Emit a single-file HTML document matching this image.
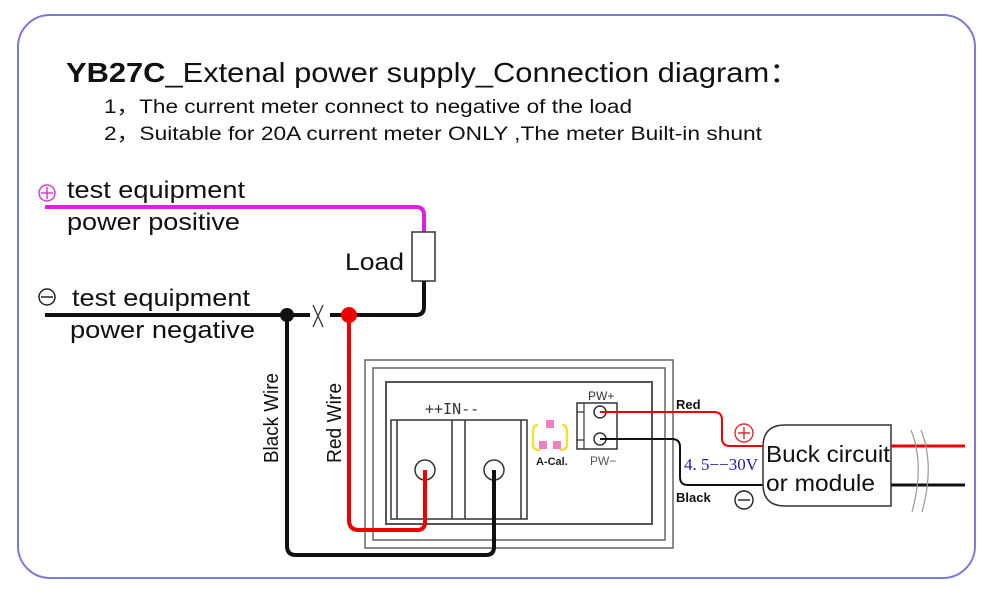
<!DOCTYPE html>
<html><head><style>body{margin:0;background:#fff}svg{display:block}</style></head><body>
<svg width="1000" height="595" viewBox="0 0 1000 595" xmlns="http://www.w3.org/2000/svg" font-family="Liberation Sans, sans-serif">
<rect x="18" y="15" width="957" height="563" rx="32" fill="#fff" stroke="#7c7cd6" stroke-width="2"/>
<text x="66" y="82" font-size="28" fill="#111" textLength="734" lengthAdjust="spacingAndGlyphs"><tspan font-weight="bold">YB27C</tspan>_Extenal power supply_Connection diagram：</text>
<text x="104" y="113" font-size="19" fill="#111" textLength="528" lengthAdjust="spacingAndGlyphs">1，The current meter connect to negative of the load</text>
<text x="104" y="140" font-size="19" fill="#111" textLength="658" lengthAdjust="spacingAndGlyphs">2，Suitable for 20A current meter ONLY ,The meter Built-in shunt</text>
<!-- magenta -->
<path d="M45 207 H416 Q424 207 424 215 V232" fill="none" stroke="#e020e0" stroke-width="4"/>
<circle cx="47" cy="193" r="8" fill="none" stroke="#d040d0" stroke-width="1.5"/>
<path d="M41 193h12M47 187v12" stroke="#d040d0" stroke-width="1.5"/>
<text x="67" y="198" font-size="24" fill="#111" textLength="178" lengthAdjust="spacingAndGlyphs">test equipment</text>
<text x="67" y="230" font-size="24" fill="#111" textLength="173" lengthAdjust="spacingAndGlyphs">power positive</text>
<rect x="412" y="232" width="23" height="49" fill="#fff" stroke="#333" stroke-width="1.5"/>
<text x="345" y="270" font-size="24" fill="#111" textLength="59" lengthAdjust="spacingAndGlyphs">Load</text>
<!-- black negative -->
<path d="M424 281 V307 Q424 315 416 315 H330" fill="none" stroke="#111" stroke-width="4"/>
<path d="M45 315 H310" stroke="#111" stroke-width="4"/>
<path d="M313 305 L323 327 M323 305 L313 327" stroke="#333" stroke-width="1.3"/>
<circle cx="47" cy="297" r="8" fill="none" stroke="#222" stroke-width="1.5"/>
<path d="M41 297h12" stroke="#222" stroke-width="1.5"/>
<text x="72" y="306" font-size="24" fill="#111" textLength="178" lengthAdjust="spacingAndGlyphs">test equipment</text>
<text x="70" y="338" font-size="24" fill="#111" textLength="185" lengthAdjust="spacingAndGlyphs">power negative</text>
<!-- meter -->
<rect x="365" y="360" width="308" height="188" fill="#fff" stroke="#666" stroke-width="1.5"/>
<rect x="373" y="368" width="292" height="172" fill="#fff" stroke="#666" stroke-width="1.5"/>
<rect x="386" y="382" width="266" height="142" fill="#fff" stroke="#555" stroke-width="2"/>
<rect x="391" y="420" width="136" height="99" fill="#fff" stroke="#333" stroke-width="1.5"/>
<path d="M397 420v99M452 420v99M465 420v99M521 420v99" stroke="#333" stroke-width="1.5"/>
<text x="425" y="414" font-size="15" fill="#333" font-family="DejaVu Sans Mono, monospace">++IN--</text>
<circle cx="425" cy="470" r="10" fill="#fff" stroke="#333" stroke-width="1.5"/>
<circle cx="494" cy="470" r="10" fill="#fff" stroke="#333" stroke-width="1.5"/>
<path d="M538 425 Q533 425 533 432 V445 Q533 450 540 450 M562 425 Q567 425 567 432 V445 Q567 450 560 450" fill="none" stroke="#f0e040" stroke-width="2.5"/>
<rect x="546" y="420" width="8" height="8" fill="#f080c0"/>
<rect x="539" y="441" width="8" height="8" fill="#f080c0"/>
<rect x="553" y="441" width="8" height="8" fill="#f080c0"/>
<text x="536" y="465" font-size="11" font-weight="bold" fill="#222">A-Cal.</text>
<rect x="577" y="403" width="40" height="46" fill="#fff" stroke="#333" stroke-width="1.5"/>
<path d="M584 403v46M577 412h7M577 440h7" stroke="#333" stroke-width="1.2"/>
<text x="588" y="400" font-size="12" fill="#333">PW+</text>
<text x="590" y="465" font-size="12" fill="#555">PW−</text>
<!-- wires from input -->
<path d="M349 315 V520 Q349 530 359 530 H417 Q425 530 425 522 V470" fill="none" stroke="#e00" stroke-width="4"/>
<path d="M287 315 V546 Q287 555 296 555 H486 Q494 555 494 547 V470" fill="none" stroke="#111" stroke-width="4"/>
<circle cx="287" cy="315" r="7" fill="#111"/>
<circle cx="349" cy="315" r="8" fill="#e00"/>
<text transform="translate(278,463) rotate(-90)" font-size="20" fill="#111" textLength="90" lengthAdjust="spacingAndGlyphs">Black Wire</text>
<text transform="translate(341,463) rotate(-90)" font-size="20" fill="#111" textLength="80" lengthAdjust="spacingAndGlyphs">Red Wire</text>
<!-- PW wires -->
<circle cx="600" cy="412" r="6" fill="#fff" stroke="#333" stroke-width="1.5"/>
<circle cx="600" cy="439" r="6" fill="#fff" stroke="#333" stroke-width="1.5"/>
<path d="M600 412 H714 Q722 412 722 420 V438 Q722 446 730 446 H763" fill="none" stroke="#e00" stroke-width="2"/>
<path d="M600 439 H672 Q680 439 680 447 V477 Q680 485 688 485 H763" fill="none" stroke="#111" stroke-width="2"/>
<text x="676" y="409" font-size="13" font-weight="bold" fill="#111">Red</text>
<text x="676" y="502" font-size="13" font-weight="bold" fill="#111">Black</text>
<text x="684" y="470" font-size="17" fill="#2020a0" font-family="Liberation Serif, serif" textLength="74" lengthAdjust="spacingAndGlyphs">4. 5−−30V</text>
<circle cx="744" cy="433" r="9" fill="none" stroke="#c33" stroke-width="1.4"/>
<path d="M738 433h12M744 427v12" stroke="#c33" stroke-width="1.4"/>
<circle cx="744" cy="500" r="9" fill="none" stroke="#222" stroke-width="1.4"/>
<path d="M738 500h12" stroke="#222" stroke-width="1.4"/>
<path d="M785 425 H891 V506 H785 Q763 506 763 484 V447 Q763 425 785 425 Z" fill="#fff" stroke="#333" stroke-width="1.5"/>
<text x="766" y="462" font-size="23" fill="#111" textLength="124" lengthAdjust="spacingAndGlyphs">Buck circuit</text>
<text x="766" y="491" font-size="23" fill="#111" textLength="109" lengthAdjust="spacingAndGlyphs">or module</text>
<path d="M891 446 H965" stroke="#e00" stroke-width="3"/>
<path d="M891 485 H965" stroke="#111" stroke-width="3"/>
<path d="M911 430 Q925 465 912 512 M921 430 Q935 465 922 512" fill="none" stroke="#999" stroke-width="1.2"/>
</svg>
</body></html>
